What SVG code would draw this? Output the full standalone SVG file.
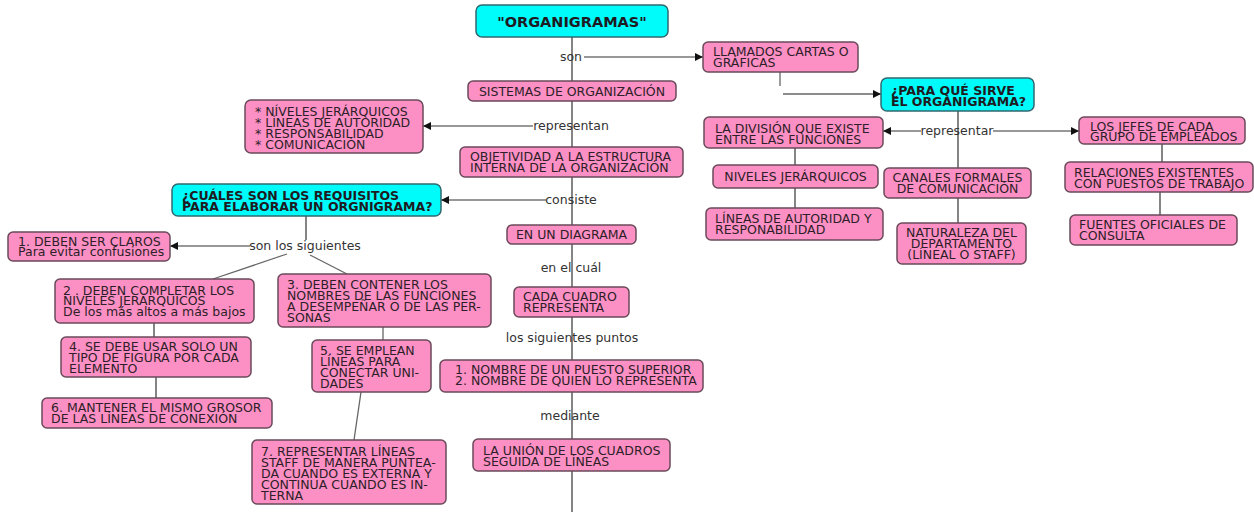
<svg xmlns="http://www.w3.org/2000/svg" width="1254" height="512" viewBox="0 0 1254 512">
<style>
.p{fill:#fc90c4;stroke:#6a4a5a;stroke-width:1.5}
.c{fill:#00fbfb;stroke:#2f6a70;stroke-width:1.5}
.t{font-family:"DejaVu Sans",Verdana,sans-serif;font-size:12.5px;fill:#2e1e28}
.b{font-family:"DejaVu Sans",Verdana,sans-serif;font-size:12.5px;font-weight:bold;fill:#1e1a22}
.m{text-anchor:middle}
.l{font-family:"DejaVu Sans",Verdana,sans-serif;font-size:12.5px;fill:#333;text-anchor:middle}
.k{stroke:#333;stroke-width:1.2;fill:none}
.g{stroke:#666;stroke-width:1.3;fill:none}
</style>
<defs>
<marker id="ar" viewBox="0 0 10 10" refX="10" refY="5" markerWidth="10" markerHeight="8" markerUnits="userSpaceOnUse" orient="auto">
<path d="M0,0 L10,5 L0,10 z" fill="#111"/>
</marker>
</defs>
<rect width="1254" height="512" fill="#fff"/>
<g id="connectors">
<line class="k" x1="572" y1="37" x2="572" y2="512"/>
<line class="k" x1="584" y1="57" x2="703" y2="57" marker-end="url(#ar)"/>
<line class="g" x1="780" y1="72" x2="780" y2="86"/>
<line class="g" x1="783" y1="94" x2="881" y2="94" marker-end="url(#ar)"/>
<line class="k" x1="533" y1="126" x2="423" y2="126" marker-end="url(#ar)"/>
<line class="k" x1="546" y1="200" x2="441" y2="200" marker-end="url(#ar)"/>
<line class="k" x1="306" y1="216" x2="306" y2="240"/>
<line class="k" x1="250" y1="246" x2="170" y2="246" marker-end="url(#ar)"/>
<line class="g" x1="287" y1="254" x2="213" y2="279"/>
<line class="g" x1="310" y1="255" x2="347" y2="274"/>
<line class="k" x1="154" y1="323" x2="154" y2="337"/>
<line class="k" x1="156" y1="377" x2="156" y2="398"/>
<line class="g" x1="383" y1="327" x2="383" y2="340"/>
<line class="g" x1="361" y1="392" x2="354" y2="440"/>
<line class="k" x1="958" y1="111" x2="958" y2="168"/>
<line class="k" x1="921" y1="131" x2="883" y2="131" marker-end="url(#ar)"/>
<line class="k" x1="993" y1="131" x2="1079" y2="131" marker-end="url(#ar)"/>
<line class="k" x1="795" y1="148" x2="795" y2="165"/>
<line class="k" x1="795" y1="188" x2="795" y2="208"/>
<line class="k" x1="958" y1="198" x2="958" y2="223"/>
<line class="k" x1="1162" y1="144" x2="1162" y2="162"/>
<line class="k" x1="1160" y1="192" x2="1160" y2="215"/>
<text class="l" x="571" y="61">son</text>
<text class="l" x="571" y="130">representan</text>
<text class="l" x="571" y="204">consiste</text>
<text class="l" x="571" y="272">en el cuál</text>
<text class="l" x="572" y="342">los siguientes puntos</text>
<text class="l" x="570" y="420">mediante</text>
<text class="l" x="305" y="250">son los siguientes</text>
<text class="l" x="957" y="135">representar</text>
</g>
<g id="n-organigramas">
<rect class="c" x="476" y="5" width="192" height="32" rx="6"/>
<text class="b m" x="572" y="26.5" style="font-size:14.5px">"ORGANIGRAMAS"</text>
</g>
<g id="n-sistemas">
<rect class="p" x="468" y="81" width="208" height="20" rx="5"/>
<text class="t m" x="572" y="95.5">SISTEMAS DE ORGANIZACIÓN</text>
</g>
<g id="n-llamados">
<rect class="p" x="703" y="42" width="155" height="30" rx="5"/>
<text class="t" x="713" y="56">LLAMADOS CARTAS O<tspan x="713" dy="11">GRÁFICAS</tspan></text>
</g>
<g id="n-para">
<rect class="c" x="881" y="78" width="153" height="33" rx="6"/>
<text class="b" x="891" y="94.5">¿PARA QUÉ SIRVE<tspan x="891" dy="11">EL ORGANIGRAMA?</tspan></text>
</g>
<g id="n-niveles-lista">
<rect class="p" x="245" y="100" width="178" height="53" rx="6"/>
<text class="t" x="255" y="116">* NÍVELES JERÁRQUICOS<tspan x="255" dy="11">* LÍNEAS DE AUTORIDAD</tspan><tspan x="255" dy="11">* RESPONSABILIDAD</tspan><tspan x="255" dy="11">* COMUNICACIÓN</tspan></text>
</g>
<g id="n-objetividad">
<rect class="p" x="460" y="147" width="223" height="30" rx="5"/>
<text class="t" x="470" y="160.5">OBJETIVIDAD A LA ESTRUCTURA<tspan x="470" dy="11">INTERNA DE LA ORGANIZACIÓN</tspan></text>
</g>
<g id="n-cuales">
<rect class="c" x="172" y="184" width="269" height="32" rx="6"/>
<text class="b" x="182" y="199.5">¿CUÁLES SON LOS REQUISITOS<tspan x="182" dy="11">PARA ELABORAR UN ORGNIGRAMA?</tspan></text>
</g>
<g id="n-division">
<rect class="p" x="704" y="117" width="179" height="31" rx="5"/>
<text class="t" x="715" y="132.5">LA DIVISIÓN QUE EXISTE<tspan x="715" dy="11">ENTRE LAS FUNCIONES</tspan></text>
</g>
<g id="n-niveles">
<rect class="p" x="713" y="165" width="165" height="23" rx="5"/>
<text class="t m" x="795.5" y="181">NIVELES JERÁRQUICOS</text>
</g>
<g id="n-lineas-autoridad">
<rect class="p" x="706" y="208" width="177" height="32" rx="5"/>
<text class="t" x="715" y="223">LÍNEAS DE AUTORIDAD Y<tspan x="715" dy="11">RESPONABILIDAD</tspan></text>
</g>
<g id="n-canales">
<rect class="p" x="884" y="168" width="147" height="30" rx="5"/>
<text class="t m" x="957.5" y="181.5">CANALES FORMALES<tspan x="957.5" dy="11">DE COMUNICACIÓN</tspan></text>
</g>
<g id="n-naturaleza">
<rect class="p" x="897" y="223" width="129" height="41" rx="5"/>
<text class="t m" x="961.5" y="236.5">NATURALEZA DEL<tspan x="961.5" dy="11">DEPARTAMENTO</tspan><tspan x="961.5" dy="11">(LÍNEAL O STAFF)</tspan></text>
</g>
<g id="n-jefes">
<rect class="p" x="1079" y="117" width="166" height="27" rx="5"/>
<text class="t" x="1090" y="130.5">LOS JEFES DE CADA<tspan x="1090" dy="10.5">GRUPO DE EMPLEADOS</tspan></text>
</g>
<g id="n-relaciones">
<rect class="p" x="1065" y="162" width="188" height="30" rx="5"/>
<text class="t" x="1074" y="176.5">RELACIONES EXISTENTES<tspan x="1074" dy="11">CON PUESTOS DE TRABAJO</tspan></text>
</g>
<g id="n-fuentes">
<rect class="p" x="1070" y="215" width="167" height="30" rx="5"/>
<text class="t" x="1079" y="228.5">FUENTES OFICIALES DE<tspan x="1079" dy="11">CONSULTA</tspan></text>
</g>
<g id="n-req1">
<rect class="p" x="8" y="232" width="162" height="29" rx="5"/>
<text class="t" x="18" y="245.5">1. DEBEN SER CLAROS<tspan x="18" dy="10.5">Para evitar confusiones</tspan></text>
</g>
<g id="n-req2">
<rect class="p" x="55" y="279" width="199" height="44" rx="5"/>
<text class="t" x="63" y="294.5">2 . DEBEN COMPLETAR LOS<tspan x="63" dy="10.5">NIVELES JERÁRQUICOS</tspan><tspan x="63" dy="10.5">De los más altos a más bajos</tspan></text>
</g>
<g id="n-req3">
<rect class="p" x="278" y="274" width="213" height="53" rx="5"/>
<text class="t" x="287" y="288.5">3. DEBEN CONTENER LOS<tspan x="287" dy="11.2">NOMBRES DE LAS FUNCIONES</tspan><tspan x="287" dy="11">A DESEMPEÑAR O DE LAS PER-</tspan><tspan x="287" dy="11">SONAS</tspan></text>
</g>
<g id="n-req4">
<rect class="p" x="61" y="337" width="190" height="40" rx="5"/>
<text class="t" x="69" y="350.5">4. SE DEBE USAR SOLO UN<tspan x="69" dy="11">TIPO DE FIGURA POR CADA</tspan><tspan x="69" dy="11">ELEMENTO</tspan></text>
</g>
<g id="n-req6">
<rect class="p" x="42" y="398" width="230" height="30" rx="5"/>
<text class="t" x="51" y="411.5">6. MANTENER EL MISMO GROSOR<tspan x="51" dy="11">DE LAS LÍNEAS DE CONEXIÓN</tspan></text>
</g>
<g id="n-req5">
<rect class="p" x="312" y="340" width="119" height="52" rx="5"/>
<text class="t" x="320" y="355">5. SE EMPLEAN<tspan x="320" dy="11">LÍNEAS PARA</tspan><tspan x="320" dy="11">CONECTAR UNI-</tspan><tspan x="320" dy="11">DADES</tspan></text>
</g>
<g id="n-req7">
<rect class="p" x="252" y="440" width="194" height="64" rx="5"/>
<text class="t" x="261" y="455.5">7. REPRESENTAR LÍNEAS<tspan x="261" dy="11.3">STAFF DE MANERA PUNTEA-</tspan><tspan x="261" dy="11.3">DA CUANDO ES EXTERNA Y</tspan><tspan x="261" dy="11">CONTINUA CUANDO ES IN-</tspan><tspan x="261" dy="11">TERNA</tspan></text>
</g>
<g id="n-diagrama">
<rect class="p" x="507" y="225" width="129" height="19" rx="5"/>
<text class="t m" x="571.5" y="239">EN UN DIAGRAMA</text>
</g>
<g id="n-cuadro">
<rect class="p" x="514" y="287" width="115" height="30" rx="5"/>
<text class="t" x="523" y="301">CADA CUADRO<tspan x="523" dy="11">REPRESENTA</tspan></text>
</g>
<g id="n-nombre">
<rect class="p" x="440" y="360" width="263" height="32" rx="5"/>
<text class="t" x="455" y="374">1. NOMBRE DE UN PUESTO SUPERIOR<tspan x="455" dy="11">2. NOMBRE DE QUIEN LO REPRESENTA</tspan></text>
</g>
<g id="n-union">
<rect class="p" x="473" y="439" width="197" height="32" rx="5"/>
<text class="t" x="483" y="455">LA UNIÓN DE LOS CUADROS<tspan x="483" dy="11">SEGUIDA DE LÍNEAS</tspan></text>
</g>
</svg>
